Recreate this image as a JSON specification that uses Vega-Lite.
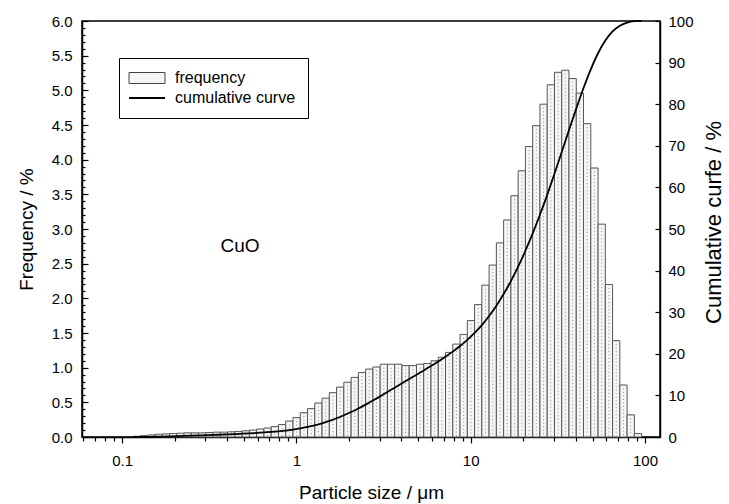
{
 "$schema": "https://vega.github.io/schema/vega-lite/v6.json",
 "width": 578, "height": 416,
 "autosize": {"type": "none"},
 "padding": {"left": 82, "top": 21, "right": 69, "bottom": 67},
 "background": "white",
 "config": {
  "font": "Liberation Sans",
  "view": {"stroke": "black", "strokeWidth": 1.5},
  "axis": {"domainColor": "black", "domainWidth": 1.5, "tickColor": "black", "tickWidth": 1.2, "labelColor": "black", "labelFontSize": 15, "labelFont": "Liberation Sans", "titleFont": "Liberation Sans", "titleFontSize": 19, "titleFontWeight": "normal", "titleColor": "black", "grid": false, "labelOverlap": false, "labelFlush": false}
 },
 "datasets": {
  "bars": [
   {"lo":0.11585,"hi":0.12752,"mid":0.12154,"freq":0.01},
   {"lo":0.12752,"hi":0.14036,"mid":0.13379,"freq":0.02},
   {"lo":0.14036,"hi":0.15449,"mid":0.14726,"freq":0.03},
   {"lo":0.15449,"hi":0.17005,"mid":0.16208,"freq":0.04},
   {"lo":0.17005,"hi":0.18717,"mid":0.17841,"freq":0.045},
   {"lo":0.18717,"hi":0.20602,"mid":0.19637,"freq":0.05},
   {"lo":0.20602,"hi":0.22676,"mid":0.21614,"freq":0.055},
   {"lo":0.22676,"hi":0.2496,"mid":0.2379,"freq":0.06},
   {"lo":0.2496,"hi":0.27473,"mid":0.26187,"freq":0.06},
   {"lo":0.27473,"hi":0.30239,"mid":0.28823,"freq":0.06},
   {"lo":0.30239,"hi":0.33284,"mid":0.31725,"freq":0.065},
   {"lo":0.33284,"hi":0.36636,"mid":0.3492,"freq":0.07},
   {"lo":0.36636,"hi":0.40325,"mid":0.38436,"freq":0.07},
   {"lo":0.40325,"hi":0.44385,"mid":0.42307,"freq":0.075},
   {"lo":0.44385,"hi":0.48855,"mid":0.46566,"freq":0.08},
   {"lo":0.48855,"hi":0.53774,"mid":0.51256,"freq":0.09},
   {"lo":0.53774,"hi":0.59189,"mid":0.56416,"freq":0.1},
   {"lo":0.59189,"hi":0.65149,"mid":0.62098,"freq":0.115},
   {"lo":0.65149,"hi":0.7171,"mid":0.6835,"freq":0.13},
   {"lo":0.7171,"hi":0.78931,"mid":0.75234,"freq":0.15},
   {"lo":0.78931,"hi":0.86879,"mid":0.8281,"freq":0.18},
   {"lo":0.86879,"hi":0.95627,"mid":0.91148,"freq":0.23},
   {"lo":0.95627,"hi":1.05257,"mid":1.00326,"freq":0.28},
   {"lo":1.05257,"hi":1.15856,"mid":1.10429,"freq":0.35},
   {"lo":1.15856,"hi":1.27522,"mid":1.21549,"freq":0.41},
   {"lo":1.27522,"hi":1.40363,"mid":1.33789,"freq":0.49},
   {"lo":1.40363,"hi":1.54497,"mid":1.4726,"freq":0.56},
   {"lo":1.54497,"hi":1.70054,"mid":1.62089,"freq":0.64},
   {"lo":1.70054,"hi":1.87178,"mid":1.78411,"freq":0.72},
   {"lo":1.87178,"hi":2.06026,"mid":1.96376,"freq":0.79},
   {"lo":2.06026,"hi":2.26772,"mid":2.1615,"freq":0.86},
   {"lo":2.26772,"hi":2.49607,"mid":2.37916,"freq":0.93},
   {"lo":2.49607,"hi":2.74741,"mid":2.61873,"freq":0.98},
   {"lo":2.74741,"hi":3.02406,"mid":2.88242,"freq":1.01},
   {"lo":3.02406,"hi":3.32857,"mid":3.17266,"freq":1.05},
   {"lo":3.32857,"hi":3.66374,"mid":3.49214,"freq":1.05},
   {"lo":3.66374,"hi":4.03266,"mid":3.84378,"freq":1.05},
   {"lo":4.03266,"hi":4.43873,"mid":4.23083,"freq":1.03},
   {"lo":4.43873,"hi":4.88569,"mid":4.65685,"freq":1.03},
   {"lo":4.88569,"hi":5.37766,"mid":5.12578,"freq":1.05},
   {"lo":5.37766,"hi":5.91917,"mid":5.64192,"freq":1.06},
   {"lo":5.91917,"hi":6.5152,"mid":6.21005,"freq":1.1},
   {"lo":6.5152,"hi":7.17125,"mid":6.83536,"freq":1.15},
   {"lo":7.17125,"hi":7.89336,"mid":7.52366,"freq":1.22},
   {"lo":7.89336,"hi":8.68818,"mid":8.28125,"freq":1.34},
   {"lo":8.68818,"hi":9.56303,"mid":9.11513,"freq":1.48},
   {"lo":9.56303,"hi":10.526,"mid":10.033,"freq":1.68},
   {"lo":10.526,"hi":11.5859,"mid":11.0433,"freq":1.91},
   {"lo":11.5859,"hi":12.7526,"mid":12.1552,"freq":2.19},
   {"lo":12.7526,"hi":14.0367,"mid":13.3793,"freq":2.48},
   {"lo":14.0367,"hi":15.4502,"mid":14.7265,"freq":2.8},
   {"lo":15.4502,"hi":17.006,"mid":16.2094,"freq":3.13},
   {"lo":17.006,"hi":18.7184,"mid":17.8417,"freq":3.48},
   {"lo":18.7184,"hi":20.6032,"mid":19.6382,"freq":3.84},
   {"lo":20.6032,"hi":22.6779,"mid":21.6157,"freq":4.19},
   {"lo":22.6779,"hi":24.9615,"mid":23.7923,"freq":4.49},
   {"lo":24.9615,"hi":27.475,"mid":26.1881,"freq":4.8},
   {"lo":27.475,"hi":30.2416,"mid":28.8251,"freq":5.08},
   {"lo":30.2416,"hi":33.2868,"mid":31.7277,"freq":5.26},
   {"lo":33.2868,"hi":36.6387,"mid":34.9225,"freq":5.29},
   {"lo":36.6387,"hi":40.328,"mid":38.4392,"freq":5.17},
   {"lo":40.328,"hi":44.3889,"mid":42.3097,"freq":4.96},
   {"lo":44.3889,"hi":48.8587,"mid":46.5702,"freq":4.52},
   {"lo":48.8587,"hi":53.7785,"mid":51.2596,"freq":3.88},
   {"lo":53.7785,"hi":59.1939,"mid":56.4212,"freq":3.07},
   {"lo":59.1939,"hi":65.1545,"mid":62.1027,"freq":2.2},
   {"lo":65.1545,"hi":71.7154,"mid":68.3562,"freq":1.39},
   {"lo":71.7154,"hi":78.9369,"mid":75.2395,"freq":0.75},
   {"lo":78.9369,"hi":86.8854,"mid":82.8159,"freq":0.32},
   {"lo":86.8854,"hi":95.6344,"mid":91.155,"freq":0.05}
  ],
  "curve": [
   {"size":0.1159,"cum":0},
   {"size":0.1275,"cum":0.01},
   {"size":0.1404,"cum":0.03},
   {"size":0.1545,"cum":0.06},
   {"size":0.1701,"cum":0.1},
   {"size":0.1872,"cum":0.14},
   {"size":0.206,"cum":0.19},
   {"size":0.2268,"cum":0.25},
   {"size":0.2496,"cum":0.31},
   {"size":0.2747,"cum":0.37},
   {"size":0.3024,"cum":0.43},
   {"size":0.3328,"cum":0.49},
   {"size":0.3664,"cum":0.56},
   {"size":0.4033,"cum":0.63},
   {"size":0.4439,"cum":0.71},
   {"size":0.4886,"cum":0.79},
   {"size":0.5377,"cum":0.88},
   {"size":0.5919,"cum":0.98},
   {"size":0.6515,"cum":1.09},
   {"size":0.7171,"cum":1.22},
   {"size":0.7893,"cum":1.37},
   {"size":0.8688,"cum":1.55},
   {"size":0.9563,"cum":1.78},
   {"size":1.0526,"cum":2.06},
   {"size":1.1586,"cum":2.41},
   {"size":1.2752,"cum":2.82},
   {"size":1.4036,"cum":3.3},
   {"size":1.545,"cum":3.86},
   {"size":1.7005,"cum":4.5},
   {"size":1.8718,"cum":5.22},
   {"size":2.0603,"cum":6.0},
   {"size":2.2677,"cum":6.86},
   {"size":2.4961,"cum":7.79},
   {"size":2.7474,"cum":8.76},
   {"size":3.0241,"cum":9.77},
   {"size":3.3286,"cum":10.82},
   {"size":3.6637,"cum":11.86},
   {"size":4.0327,"cum":12.91},
   {"size":4.4387,"cum":13.94},
   {"size":4.8857,"cum":14.96},
   {"size":5.3777,"cum":16.01},
   {"size":5.9192,"cum":17.07},
   {"size":6.5152,"cum":18.16},
   {"size":7.1713,"cum":19.31},
   {"size":7.8934,"cum":20.52},
   {"size":8.6882,"cum":21.86},
   {"size":9.563,"cum":23.33},
   {"size":10.526,"cum":25.01},
   {"size":11.586,"cum":26.91},
   {"size":12.753,"cum":29.09},
   {"size":14.037,"cum":31.57},
   {"size":15.45,"cum":34.36},
   {"size":17.006,"cum":37.48},
   {"size":18.718,"cum":40.94},
   {"size":20.603,"cum":44.77},
   {"size":22.678,"cum":48.95},
   {"size":24.962,"cum":53.42},
   {"size":27.475,"cum":58.2},
   {"size":30.242,"cum":63.27},
   {"size":33.287,"cum":68.51},
   {"size":36.639,"cum":73.78},
   {"size":40.328,"cum":78.93},
   {"size":44.389,"cum":83.88},
   {"size":48.859,"cum":88.38},
   {"size":53.779,"cum":92.25},
   {"size":59.194,"cum":95.31},
   {"size":65.155,"cum":97.5},
   {"size":71.715,"cum":98.88},
   {"size":78.937,"cum":99.63},
   {"size":86.885,"cum":99.95},
   {"size":95.634,"cum":100}
  ],
  "notes": [{"size":0.475,"freq":2.75,"label":"CuO"}]
 },
 "layer": [
  {
   "layer": [
    {
     "data": {"name": "bars"},
     "mark": {"type": "bar", "stroke": "#555555", "strokeWidth": 1},
     "encoding": {
      "x": {"field": "lo", "type": "quantitative",
       "scale": {"type": "log", "domain": [0.0589, 121.9], "nice": false},
       "axis": {
        "title": "Particle size / μm",
        "values": [0.06,0.07,0.08,0.09,0.1,0.2,0.3,0.4,0.5,0.6,0.7,0.8,0.9,1,2,3,4,5,6,7,8,9,10,20,30,40,50,60,70,80,90,100],
        "tickCount": 100,
        "format": "~g",
        "labelExpr": "(datum.value==0.1||datum.value==1||datum.value==10||datum.value==100) ? datum.label : ''",
        "tickSize": {"condition": {"test": "datum.value==0.1||datum.value==1||datum.value==10||datum.value==100", "value": 6}, "value": 4},
        "labelOverlap": false,
        "labelPadding": 10,
        "titlePadding": 15
       }
      },
      "x2": {"field": "hi"},
      "y": {"field": "freq", "type": "quantitative",
       "scale": {"domain": [0, 6], "nice": false},
       "axis": {
        "title": "Frequency / %",
        "values": [0,0.1,0.2,0.3,0.4,0.5,0.6,0.7,0.8,0.9,1,1.1,1.2,1.3,1.4,1.5,1.6,1.7,1.8,1.9,2,2.1,2.2,2.3,2.4,2.5,2.6,2.7,2.8,2.9,3,3.1,3.2,3.3,3.4,3.5,3.6,3.7,3.8,3.9,4,4.1,4.2,4.3,4.4,4.5,4.6,4.7,4.8,4.9,5,5.1,5.2,5.3,5.4,5.5,5.6,5.7,5.8,5.9,6],
        "tickCount": 100,
        "labelExpr": "abs(datum.value*2-round(datum.value*2))<0.001 ? format(datum.value,'.1f') : ''",
        "tickSize": {"condition": {"test": "abs(datum.value*2-round(datum.value*2))<0.001", "value": -6}, "value": -3},
        "labelOverlap": false,
        "labelPadding": 16,
        "titlePadding": 15
       }
      },
      "y2": {"datum": 0},
      "fill": {"datum": "frequency",
       "scale": {"domain": ["frequency", "cumulative curve"], "range": ["#f6f6f6", "black"]},
       "legend": {
        "orient": "none", "legendX": 37, "legendY": 37, "direction": "vertical",
        "title": null, "strokeColor": "black", "fillColor": "white", "padding": 12,
        "rowPadding": 4, "symbolSize": 400, "symbolOffset": 8, "labelOffset": 20,
        "symbolType": {"expr": "datum.value == 'frequency' ? 'M-1.8,-0.55H1.8V0.55H-1.8Z' : 'M-1.8,0H1.8'"},
        "symbolStrokeColor": {"expr": "datum.value == 'frequency' ? '#444444' : 'black'"},
        "symbolStrokeWidth": {"expr": "datum.value == 'frequency' ? 1 : 1.8"},
        "labelFontSize": 16, "labelFont": "Liberation Sans", "labelColor": "black"
       }
      }
     }
    },
    {
     "data": {"name": "bars"},
     "mark": {"type": "rule", "strokeDash": [1, 2.5], "color": "#8f8f8f", "strokeWidth": 1},
     "encoding": {
      "x": {"field": "mid", "type": "quantitative"},
      "y": {"field": "freq", "type": "quantitative"},
      "y2": {"datum": 0}
     }
    },
    {
     "data": {"name": "notes"},
     "mark": {"type": "text", "fontSize": 19, "font": "Liberation Sans", "color": "black"},
     "encoding": {
      "x": {"field": "size", "type": "quantitative"},
      "y": {"field": "freq", "type": "quantitative"},
      "text": {"field": "label"}
     }
    }
   ]
  },
  {
   "data": {"name": "curve"},
   "mark": {"type": "line", "interpolate": "monotone", "strokeWidth": 1.8, "color": "black"},
   "encoding": {
    "x": {"field": "size", "type": "quantitative"},
    "y": {"field": "cum", "type": "quantitative",
     "scale": {"domain": [0, 100], "nice": false},
     "axis": {
      "orient": "right",
      "title": "Cumulative curfe / %",
      "values": [0,10,20,30,40,50,60,70,80,90,100],
      "tickCount": 100,
      "labelOverlap": false,
      "tickSize": -5,
      "labelPadding": 13,
      "titlePadding": 10,
      "titleFontSize": 22,
      "titleY": 201,
      "titleAngle": 270,
      "titleBaseline": "top"
     }
    }
   }
  }
 ],
 "resolve": {"scale": {"y": "independent"}}
}
